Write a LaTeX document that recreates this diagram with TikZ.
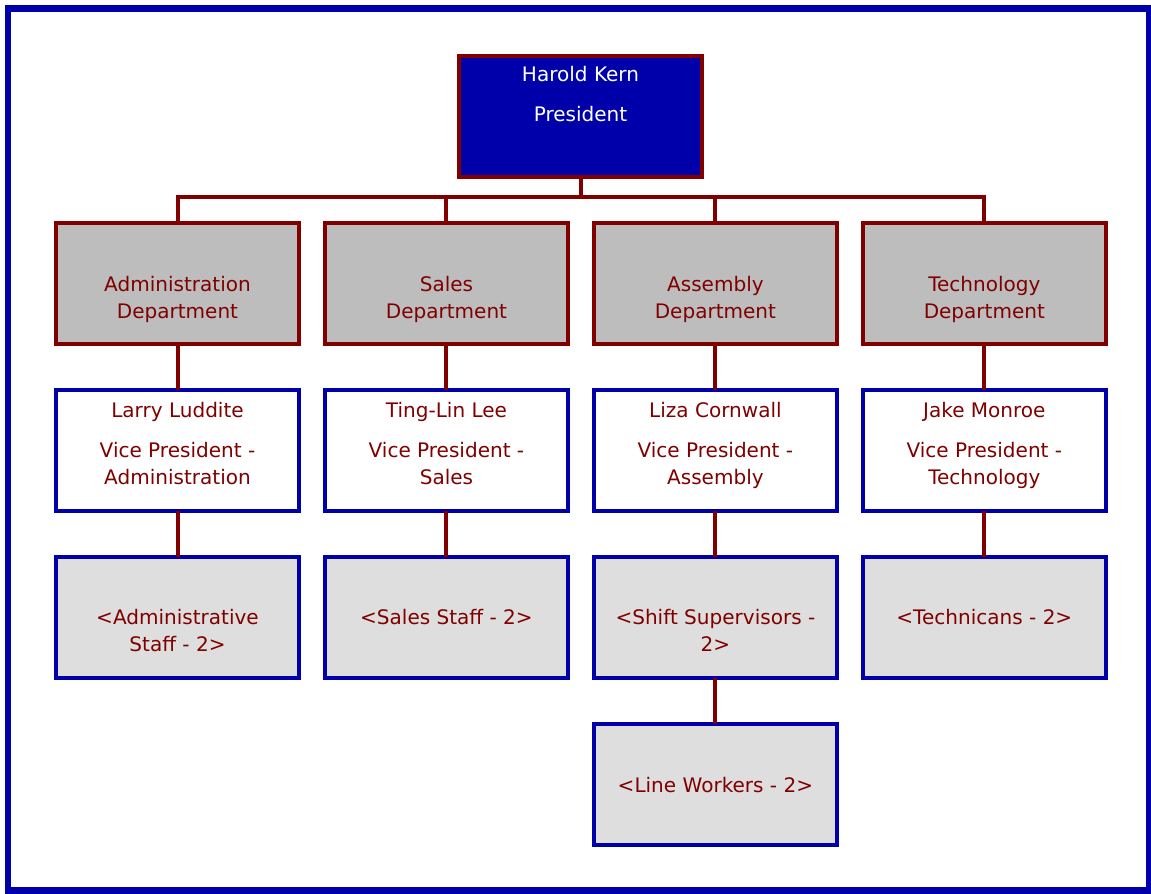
\documentclass[tikz,border=0pt]{standalone}
\usepackage{fontspec}
\setmainfont{DejaVu Sans}
\usepackage{xcolor}
\definecolor{orgred}{RGB}{128,0,0}
\definecolor{orgblue}{RGB}{0,0,170}
\definecolor{deptgray}{RGB}{189,189,189}
\definecolor{staffgray}{RGB}{222,222,222}
\usepackage{tikz}
\usetikzlibrary{positioning}
\tikzset{
    orgbox/.style   = {rectangle, line width=0.08cm, minimum width=4.86cm,
                       minimum height=2.42cm, inner sep=0pt, outer sep=0pt},
    presbox/.style  = {orgbox, draw=orgred, fill=orgblue},
    deptbox/.style  = {orgbox, draw=orgred, fill=deptgray},
    vpbox/.style    = {orgbox, draw=orgblue, fill=white},
    staffbox/.style = {orgbox, draw=orgblue, fill=staffgray},
    boxtext/.style  = {anchor=north, inner sep=0pt, align=center, text=orgred,
                       font=\fontsize{11.4}{15.4}\selectfont},
    link/.style     = {draw=orgred, line width=0.08cm}
}

\begin{document}
\begin{tikzpicture}[
   x=0.02cm, y=-0.02cm,
   node distance = 0.92cm and 0.52cm
]
\useasboundingbox (0,0) rectangle (1151,893);
\fill[white] (0,0) rectangle (1151,893);
\draw[orgblue, line width=0.14cm] (8,8) rectangle (1149,890);
\coordinate (bus) at (0,197);

% boxes
\node[presbox] (pres) at (580.5,116.5) {};
\node[deptbox] (dept1) at (177.5,283.5) {};
\node[deptbox, right=of dept1] (dept2) {};
\node[deptbox, right=of dept2] (dept3) {};
\node[deptbox, right=of dept3] (dept4) {};
\foreach \c in {1,...,4} {
   \node[vpbox, below=of dept\c] (vp\c) {};
   \node[staffbox, below=of vp\c] (staff\c) {};
}
\node[staffbox, below=of staff3] (line3) {};

% connectors
\foreach \c in {1,...,4}
   \draw[link] (pres.south) -- (pres.south |- bus) -| (dept\c.north);
\foreach \a/\b in {dept1/vp1,dept2/vp2,dept3/vp3,dept4/vp4,
                   vp1/staff1,vp2/staff2,vp3/staff3,vp4/staff4,staff3/line3}
   \draw[link] (\a.south) -- (\b.north);

% texts
\node[boxtext, text=white, below=0.2cm of pres.north] (presT)
   {Harold Kern\\[7.4pt]President};
\node[boxtext, below=1.05cm of dept1.north] (dept1T) {Administration\\Department};
\node[boxtext, below=1.05cm of dept2.north] (dept2T) {Sales\\Department};
\node[boxtext, below=1.05cm of dept3.north] (dept3T) {Assembly\\Department};
\node[boxtext, below=1.05cm of dept4.north] (dept4T) {Technology\\Department};
\node[boxtext, below=0.24cm of vp1.north] (vp1T)
   {Larry Luddite\\[7.4pt]Vice President -\\Administration};
\node[boxtext, below=0.24cm of vp2.north] (vp2T)
   {Ting-Lin Lee\\[7.4pt]Vice President -\\Sales};
\node[boxtext, below=0.24cm of vp3.north] (vp3T)
   {Liza Cornwall\\[7.4pt]Vice President -\\Assembly};
\node[boxtext, below=0.24cm of vp4.north] (vp4T)
   {Jake Monroe\\[7.4pt]Vice President -\\Technology};
\node[boxtext, below=1.04cm of staff1.north] (staff1T) {<Administrative\\Staff - 2>};
\node[boxtext, below=1.04cm of staff2.north] (staff2T) {<Sales Staff - 2>};
\node[boxtext, below=1.04cm of staff3.north] (staff3T) {<Shift Supervisors -\\2>};
\node[boxtext, below=1.04cm of staff4.north] (staff4T) {<Technicans - 2>};
\node[boxtext, below=1.06cm of line3.north] (line3T) {<Line Workers - 2>};
\end{tikzpicture}
\end{document}
